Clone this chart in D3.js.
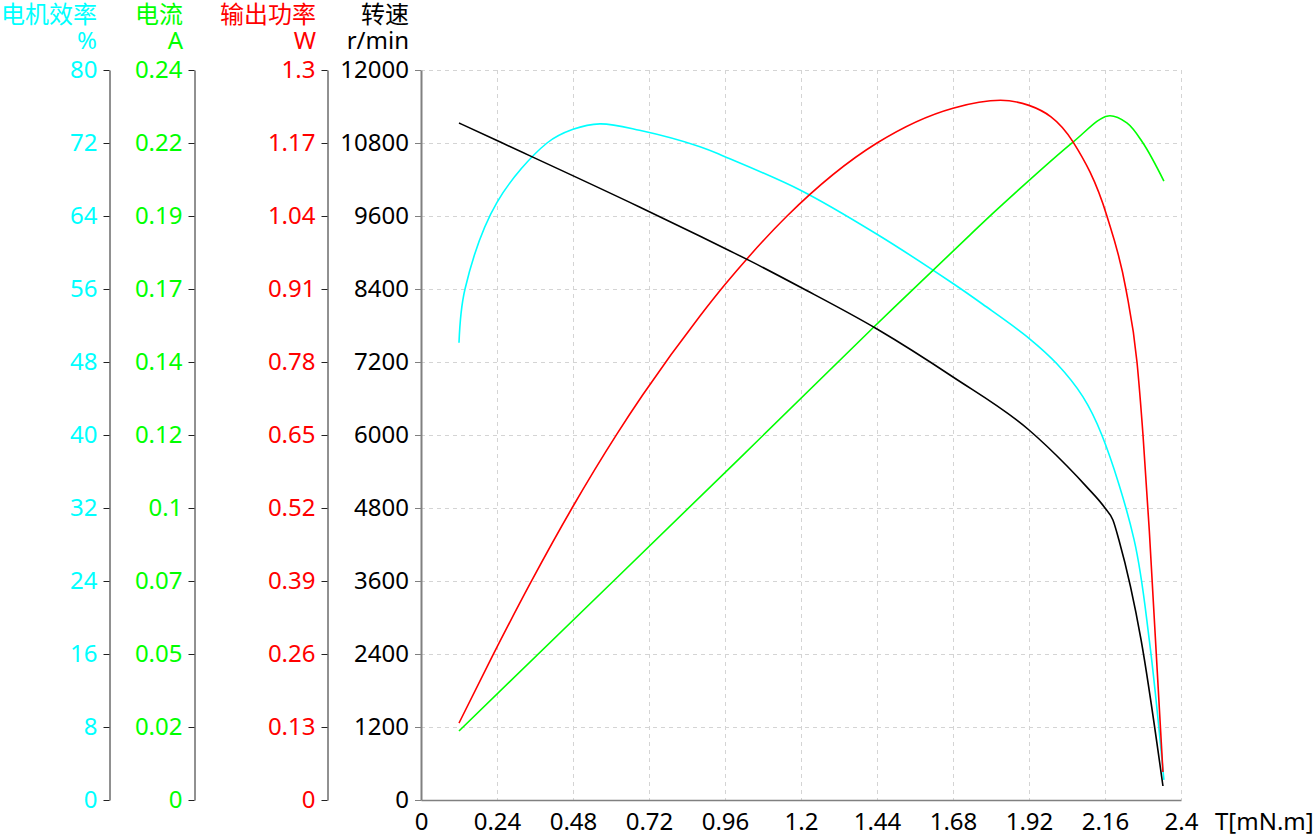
<!DOCTYPE html>
<html>
<head>
<meta charset="utf-8">
<script src="https://cdn.jsdelivr.net/npm/d3@7"></script>
<style>
body { margin: 0; background: #fff; }
svg text { font-family: "Noto Sans", "Noto Sans CJK SC", sans-serif; font-size: 24px; }
</style>
</head>
<body>
<div id="chart"></div>
<script>
// Torque / value readings for each curve
const speedT = [0.12, 0.24, 0.69, 0.88, 0.976, 1.036, 1.203, 1.44, 1.68, 1.92, 2.04, 2.10, 2.16, 2.185, 2.204, 2.274, 2.343];
const speedN = [11129, 10840, 9748, 9271, 9025, 8870, 8416, 7742, 6953, 6082, 5490, 5160, 4800, 4603, 4274, 2630, 230];

const effT = [0.12, 0.139, 0.24, 0.398, 0.48, 0.565, 0.69, 0.881, 0.96, 1.2, 1.44, 1.68, 1.775, 1.92, 2.008, 2.09, 2.15, 2.252, 2.30, 2.346];
const effV = [50.1, 56.0, 65.5, 72.0, 73.5, 74.1, 73.4, 71.6, 70.5, 66.8, 62.0, 56.6, 54.3, 50.6, 47.8, 44.2, 40.0, 28.5, 17.5, 2.2];

const powT = [0.12, 0.227, 0.347, 0.477, 0.619, 0.701, 0.881, 0.96, 1.036, 1.156, 1.44, 1.68, 1.83, 1.92, 2.059, 2.166, 2.226, 2.261, 2.28, 2.30, 2.343];
const powV = [0.137, 0.258, 0.388, 0.520, 0.652, 0.722, 0.862, 0.918, 0.968, 1.040, 1.170, 1.232, 1.246, 1.237, 1.172, 1.040, 0.910, 0.780, 0.650, 0.479, 0.050];

const curT = [0.12, 1.007, 1.43, 1.734, 1.828, 2.059, 2.17, 2.229, 2.28, 2.346];
const curV = [0.0227, 0.1124, 0.1555, 0.1858, 0.195, 0.2163, 0.2249, 0.2226, 0.216, 0.2035];

// Axis ticks and labels
const xTicks = [0, 0.24, 0.48, 0.72, 0.96, 1.2, 1.44, 1.68, 1.92, 2.16, 2.4];
const effTicks = [0, 8, 16, 24, 32, 40, 48, 56, 64, 72, 80];
const curTicks = [0, 0.024, 0.048, 0.072, 0.096, 0.12, 0.144, 0.168, 0.192, 0.216, 0.24];
const curLabels = ["0", "0.02", "0.05", "0.07", "0.1", "0.12", "0.14", "0.17", "0.19", "0.22", "0.24"];
const powTicks = [0, 0.13, 0.26, 0.39, 0.52, 0.65, 0.78, 0.91, 1.04, 1.17, 1.3];
const speedTicks = [0, 1200, 2400, 3600, 4800, 6000, 7200, 8400, 9600, 10800, 12000];

const W = 1316, H = 837;
const plot = {left: 421, right: 1181, top: 70, bottom: 800};

const svg = d3.select("#chart").append("svg")
    .attr("width", W)
    .attr("height", H);

const x = d3.scaleLinear().domain([0, 2.4]).range([plot.left, plot.right]);
const ySpeed = d3.scaleLinear().domain([0, 12000]).range([plot.bottom, plot.top]);
const yEff = d3.scaleLinear().domain([0, 80]).range([plot.bottom, plot.top]);
const yCur = d3.scaleLinear().domain([0, 0.24]).range([plot.bottom, plot.top]);
const yPow = d3.scaleLinear().domain([0, 1.3]).range([plot.bottom, plot.top]);

// Grid
const grid = svg.append("g")
    .attr("stroke", "#d4d4d4")
    .attr("stroke-dasharray", "4,4")
    .attr("stroke-width", 1);

grid.selectAll(".hgrid")
    .data(speedTicks)
    .enter()
    .append("line")
    .attr("x1", plot.left)
    .attr("x2", plot.right)
    .attr("y1", d => ySpeed(d) + 0.5)
    .attr("y2", d => ySpeed(d) + 0.5);

grid.selectAll(".vgrid")
    .data(xTicks)
    .enter()
    .append("line")
    .attr("y1", plot.top)
    .attr("y2", plot.bottom)
    .attr("x1", d => x(d) + 0.5)
    .attr("x2", d => x(d) + 0.5);

// Left axes
function leftAxis(xPos, scale, ticks, labels, color, lineColor, lineWidth) {
    const g = svg.append("g")
        .attr("transform", `translate(${xPos},0)`)
        .call(d3.axisLeft(scale)
            .tickValues(ticks)
            .tickFormat((d, i) => labels ? labels[i] : d)
            .tickSize(6)
            .tickSizeOuter(0)
            .tickPadding(6));
    g.select(".domain").attr("stroke", lineColor).attr("stroke-width", lineWidth);
    g.selectAll(".tick line").attr("stroke", lineColor);
    g.selectAll(".tick text")
        .attr("fill", color)
        .style("font-size", "24px")
        .style("font-family", "'Noto Sans', sans-serif");
    return g;
}

leftAxis(109.5, yEff, effTicks, null, "#00ffff", "#222", 1);
leftAxis(194.5, yCur, curTicks, curLabels, "#00ff00", "#222", 1);
leftAxis(327.5, yPow, powTicks, null, "#ff0000", "#222", 1);
leftAxis(421, ySpeed, speedTicks, null, "#000", "#808080", 2);

// Bottom axis
const xAxis = svg.append("g")
    .attr("transform", `translate(0,${plot.bottom})`)
    .call(d3.axisBottom(x)
        .tickValues(xTicks)
        .tickFormat(d => d)
        .tickSize(0)
        .tickSizeOuter(0)
        .tickPadding(13));
xAxis.select(".domain").attr("stroke", "#808080").attr("stroke-width", 1.5);
xAxis.selectAll(".tick text")
    .attr("fill", "#000")
    .style("font-size", "24px")
    .style("font-family", "'Noto Sans', sans-serif");

svg.append("text")
    .attr("x", 1215)
    .attr("y", 830)
    .attr("fill", "#000")
    .text("T[mN.m]");

// Axis headers
const headers = [
    {x: 97, name: "电机效率", unit: "%", color: "#00ffff"},
    {x: 183, name: "电流", unit: "A", color: "#00ff00"},
    {x: 316, name: "输出功率", unit: "W", color: "#ff0000"},
    {x: 409, name: "转速", unit: "r/min", color: "#000"}
];

headers.forEach(h => {
    svg.append("text")
        .attr("x", h.x)
        .attr("y", 23)
        .attr("text-anchor", "end")
        .attr("fill", h.color)
        .style("font-family", "'Noto Sans CJK SC', sans-serif")
        .text(h.name);
    svg.append("text")
        .attr("x", h.x)
        .attr("y", 49)
        .attr("text-anchor", "end")
        .attr("fill", h.color)
        .text(h.unit);
});

// Curves
const curves = [
    {t: effT, v: effV, y: yEff, color: "#00ffff", curve: d3.curveCatmullRom.alpha(0.5)},
    {t: curT, v: curV, y: yCur, color: "#00ff00", curve: d3.curveCatmullRom.alpha(0.5)},
    {t: powT, v: powV, y: yPow, color: "#ff0000", curve: d3.curveMonotoneX},
    {t: speedT, v: speedN, y: ySpeed, color: "#000", curve: d3.curveMonotoneX}
];

curves.forEach(c => {
    const pts = c.t.map((t, i) => [t, c.v[i]]);
    const line = d3.line()
        .x(d => x(d[0]))
        .y(d => c.y(d[1]))
        .curve(c.curve);
    svg.append("path")
        .datum(pts)
        .attr("d", line)
        .attr("fill", "none")
        .attr("stroke", c.color)
        .attr("stroke-width", 1.6);
});
</script>
</body>
</html>
